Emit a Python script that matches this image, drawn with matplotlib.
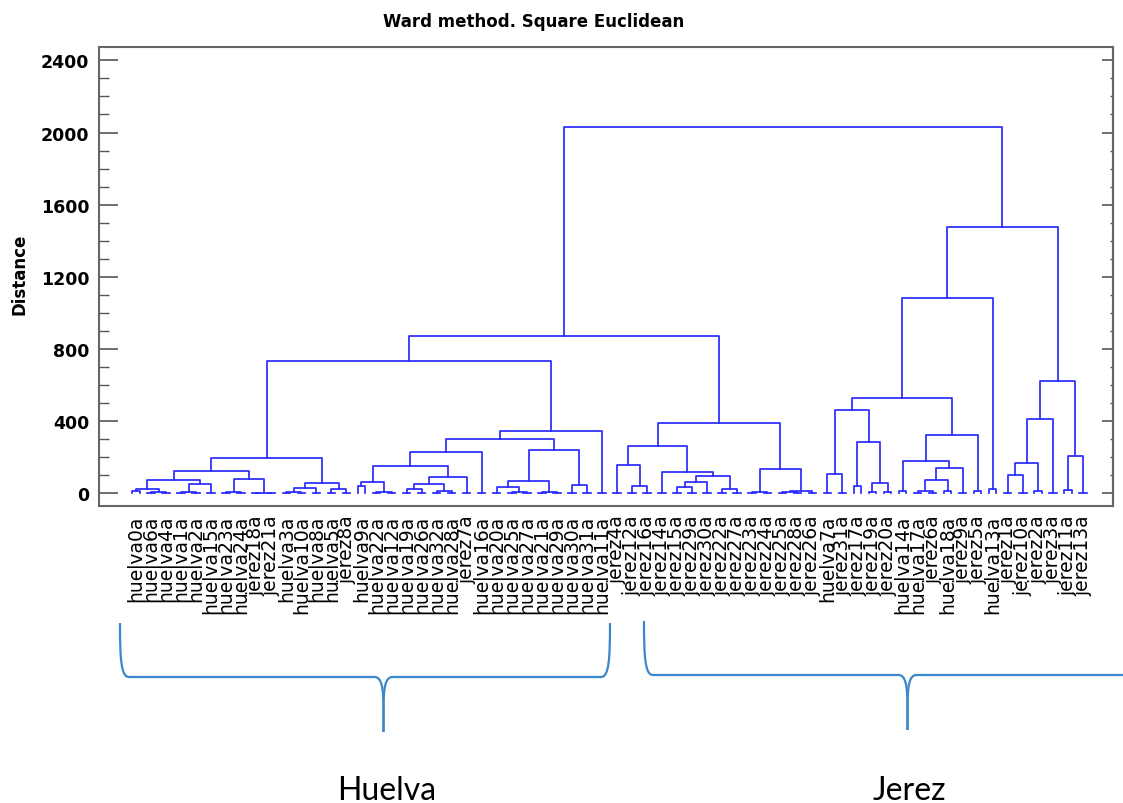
import numpy as np
import matplotlib
matplotlib.use("Agg")
import matplotlib.pyplot as plt
from matplotlib.path import Path
from matplotlib.patches import PathPatch
from matplotlib.ticker import MultipleLocator
import matplotlib.transforms as mtransforms

# leaf labels in dendrogram order
labels = ["huelva0a", "huelva6a", "huelva4a", "huelva1a", "huelva2a", "huelva15a",
          "huelva23a", "huelva24a", "jerez18a", "jerez21a", "huelva3a", "huelva10a",
          "huelva8a", "huelva5a", "jerez8a", "huelva9a", "huelva22a", "huelva12a",
          "huelva19a", "huelva26a", "huelva32a", "huelva28a", "jerez7a", "huelva16a",
          "huelva20a", "huelva25a", "huelva27a", "huelva21a", "huelva29a", "huelva30a",
          "huelva31a", "huelva11a", "jerez4a", "jerez12a", "jerez16a", "jerez14a",
          "jerez15a", "jerez29a", "jerez30a", "jerez22a", "jerez27a", "jerez23a",
          "jerez24a", "jerez25a", "jerez28a", "jerez26a", "huelva7a", "jerez31a",
          "jerez17a", "jerez19a", "jerez20a", "huelva14a", "huelva17a", "jerez6a",
          "huelva18a", "jerez9a", "jerez5a", "huelva13a", "jerez1a", "jerez10a",
          "jerez2a", "jerez3a", "jerez11a", "jerez13a"]

# each merge joins the leaves merge_lo..merge_hi (positions in the order above)
merge_lo = [1, 0, 3, 3, 0, 6, 8, 6, 0, 10, 10, 13, 10, 0, 16, 15, 18, 20, 18, 18,
            15, 15, 25, 24, 27, 24, 29, 24, 15, 15, 0,
            33, 32, 36, 36, 39, 36, 35, 32, 41, 43, 43, 41, 32, 0,
            46, 49, 48, 46, 52, 52, 52, 51, 51, 46, 46, 58, 58, 58, 62, 58, 46, 0]
merge_hi = [2, 2, 4, 5, 5, 7, 9, 9, 9, 11, 12, 14, 14, 14, 17, 17, 19, 21, 21, 22,
            22, 23, 26, 26, 28, 28, 30, 30, 30, 31, 31,
            34, 34, 37, 38, 40, 40, 40, 40, 42, 44, 45, 45, 45, 45,
            47, 50, 50, 50, 53, 54, 55, 55, 56, 56, 57, 59, 60, 61, 63, 63, 63, 63]
merge_h = [8, 24, 10, 52, 75, 10, 4, 79, 125, 10, 29, 24, 55, 196, 5, 64, 25, 15, 52, 89,
           151, 227, 5, 33, 5, 70, 46, 240, 301, 347, 734,
           42, 157, 33, 64, 24, 98, 120, 261, 5, 7, 14, 135, 388, 873,
           107, 57, 283, 464, 14, 76, 139, 181, 323, 529, 1083, 102, 166, 412, 205, 621,
           1477, 2032]

# small replicate bumps under some leaves
foot_h = [12, 0, 0, 0, 0, 0, 0, 0, 0, 0,
          0, 0, 0, 0, 0, 40, 0, 0, 0, 0,
          0, 0, 0, 0, 0, 0, 0, 0, 0, 0,
          0, 0, 0, 0, 0, 0, 0, 0, 0, 0,
          0, 0, 0, 0, 0, 0, 0, 0, 40, 8,
          8, 15, 0, 0, 15, 0, 15, 24, 0, 0,
          12, 0, 18, 0]

W, H = 1123, 804
fig = plt.figure(figsize=(W / 100, H / 100), dpi=100)
ax = fig.add_axes([99 / W, 1 - 507 / H, (1113 - 99) / W, (507 - 48) / H])

line_col = "#2a2aff"
lw = 1.25
n = len(labels)
node_h = {(i, i): foot_h[i] for i in range(n)}
for lo, hi, h in zip(merge_lo, merge_hi, merge_h):
    node_h[(lo, hi)] = h

centers = {}


def split(lo, hi):
    for k in range(lo, hi):
        if (lo, k) in node_h and (k + 1, hi) in node_h:
            return k
    raise ValueError((lo, hi))


def center(lo, hi):
    if (lo, hi) in centers:
        return centers[(lo, hi)]
    if lo == hi:
        c = float(lo)
    else:
        k = split(lo, hi)
        c = (center(lo, k) + center(k + 1, hi)) / 2
    centers[(lo, hi)] = c
    return c


# leaves: little feet / bumps
for i in range(n):
    if foot_h[i] > 0:
        ax.plot([i - 0.25, i - 0.25, i + 0.25, i + 0.25], [0, foot_h[i], foot_h[i], 0],
                color=line_col, lw=lw)
    else:
        ax.plot([i - 0.25, i + 0.25], [0, 0], color=line_col, lw=lw)

for lo, hi, h in zip(merge_lo, merge_hi, merge_h):
    k = split(lo, hi)
    xl, xr = center(lo, k), center(k + 1, hi)
    yl, yr = node_h[(lo, k)], node_h[(k + 1, hi)]
    ax.plot([xl, xl, xr, xr], [yl, h, h, yr], color=line_col, lw=lw)

ax.set_xlim((99 - 136) / 15.03, (1113 - 136) / 15.03)
ax.set_ylim(-70, 2474)

ax.set_xticks(range(n))
ax.set_xticklabels(labels, rotation=90, fontsize=13.5, family="DejaVu Sans")
ax.tick_params(axis="x", length=0, pad=6)

ax.set_yticks(np.arange(0, 2401, 400))
ax.yaxis.set_minor_locator(MultipleLocator(100))
ax.tick_params(axis="y", which="major", direction="in", length=14, width=1.2,
               color="#555555", pad=7)
ax.tick_params(axis="y", which="minor", direction="in", length=7.5, width=1.0,
               color="#555555")
for t in ax.get_yticklabels():
    t.set_fontweight("bold")
    t.set_fontsize(12.5)

sec = ax.secondary_yaxis("right")
sec.set_yticks(np.arange(0, 2401, 400))
sec.yaxis.set_minor_locator(MultipleLocator(100))
sec.tick_params(axis="y", which="major", direction="in", length=8, width=1.2,
                color="#555555", labelright=False)
sec.tick_params(axis="y", which="minor", direction="in", length=2, width=1.0,
                color="#555555")
sec.spines["right"].set_color("#666666")
sec.spines["right"].set_linewidth(1.5)

for s in ax.spines.values():
    s.set_color("#666666")
    s.set_linewidth(1.5)

fig.text(534 / W, 1 - 22 / H, "Ward method. Square Euclidean", ha="center",
         va="center", fontsize=12, fontweight="bold")
fig.text(20 / W, 1 - 274 / H, "Distance", rotation=90, ha="center", va="center",
         fontsize=12, fontweight="bold")

# group braces drawn in pixel coordinates (y down)
px = mtransforms.Affine2D().scale(1 / W, -1 / H).translate(0, 1) + fig.transFigure
brace_col = "#3a87c9"


def brace(x0, x1, xm, ytop, ymid, ytip):
    verts = [(x0, ytop), (x0, ymid - 18), (x0 + 1, ymid), (x0 + 9, ymid),
             (xm - 9, ymid), (xm - 2, ymid), (xm, ymid + 10), (xm, ymid + 32),
             (xm, ytip)]
    codes = [Path.MOVETO, Path.CURVE4, Path.CURVE4, Path.CURVE4,
             Path.LINETO, Path.CURVE4, Path.CURVE4, Path.CURVE4, Path.LINETO]
    fig.patches.append(PathPatch(Path(verts, codes), fill=False, edgecolor=brace_col,
                                 lw=1.6, transform=px))
    verts = [(xm, ytip), (xm, ymid + 32), (xm, ymid + 10), (xm + 2, ymid),
             (xm + 9, ymid), (x1 - 9, ymid), (x1 - 1, ymid), (x1, ymid - 18),
             (x1, ytop)]
    codes = [Path.MOVETO, Path.LINETO, Path.CURVE4, Path.CURVE4, Path.CURVE4,
             Path.LINETO, Path.CURVE4, Path.CURVE4, Path.CURVE4]
    fig.patches.append(PathPatch(Path(verts, codes), fill=False, edgecolor=brace_col,
                                 lw=1.6, transform=px))


brace(120, 610, 383.5, 624, 678, 733)
brace(644, 1170, 907.5, 622, 676, 731)

fig.text(387 / W, 1 - 800 / H, "Huelva", ha="center", va="baseline",
         fontsize=23, family="Lato")
fig.text(909 / W, 1 - 800 / H, "Jerez", ha="center", va="baseline",
         fontsize=23, family="Lato")

fig.savefig("out.png", dpi=100)
